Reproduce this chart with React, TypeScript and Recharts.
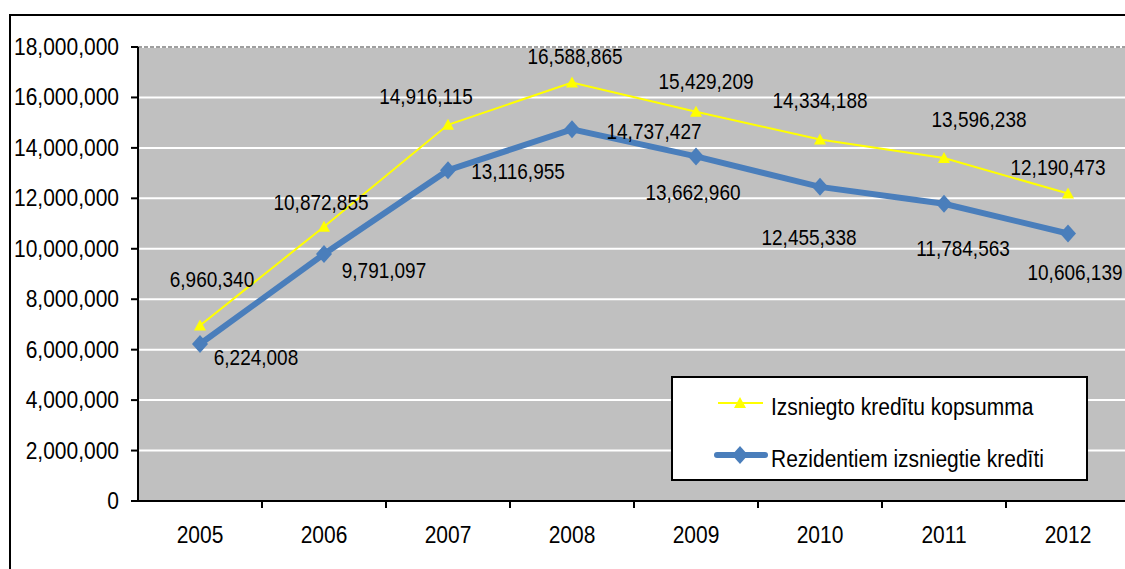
import React from "react";
import {
	ComposedChart,
	Line,
	XAxis,
	YAxis,
	CartesianGrid,
	ReferenceLine,
	Legend,
	LabelList,
} from "recharts";

const years = ["2005", "2006", "2007", "2008", "2009", "2010", "2011", "2012"];
const totalCredits = [
	6960340, 10872855, 14916115, 16588865, 15429209, 14334188, 13596238, 12190473,
];
const residentCredits = [
	6224008, 9791097, 13116955, 14737427, 13662960, 12455338, 11784563, 10606139,
];
const yTicks = [
	0, 2000000, 4000000, 6000000, 8000000, 10000000, 12000000, 14000000, 16000000,
	18000000,
];
const totalName = "Izsniegto kredītu kopsumma";
const residentName = "Rezidentiem izsniegtie kredīti";

// labels were dragged around by hand in the original, so shift each one
const totalLabelShift = [
	[12, -46], [-3, -25], [-22, -29], [3, -27], [10, -31], [0, -39], [35, -39], [-10, -27],
];
const residentLabelShift = [
	[56, 13], [60, 16], [70, 1], [82, 2], [-3, 36], [-11, 50], [19, 44], [7, 39],
];

const data = years.map((year, i) => ({
	year,
	total: totalCredits[i],
	resident: residentCredits[i],
}));

const FONT = "'Liberation Sans', Arial, sans-serif";
const YELLOW = "#FFFF00";
const BLUE = "#4A7EBB";
const STRETCH = 1.15; // the source image is a bit taller than wide

const fmt = (v: number) => Number(v).toLocaleString("en-US");

// text centred (vertically) on x,y, stretched a little in height
function TallText({ x, y, size, anchor = "middle", children }: any) {
	return (
		<text
			transform={`translate(${x},${y}) scale(1,${STRETCH})`}
			x={0}
			y={0}
			textAnchor={anchor}
			dominantBaseline="central"
			fontFamily={FONT}
			fontSize={size}
			fill="#000"
		>
			{children}
		</text>
	);
}

function makeLabel(shift: number[][]) {
	return (props: any) => {
		const { x, y, value, index } = props;
		const [dx, dy] = shift[index] || [0, 0];
		return (
			<TallText x={Number(x) + dx} y={Number(y) + dy} size={19}>
				{fmt(value)}
			</TallText>
		);
	};
}

function triangle(cx: number, cy: number) {
	return `${cx},${cy - 6} ${cx + 6},${cy + 5} ${cx - 6},${cy + 5}`;
}

function diamond(cx: number, cy: number) {
	return `${cx},${cy - 9} ${cx + 8},${cy} ${cx},${cy + 9} ${cx - 8},${cy}`;
}

const TriangleDot = (p: any) => (
	<polygon key={`t-${p.index}`} points={triangle(p.cx, p.cy)} fill={YELLOW} />
);

const DiamondDot = (p: any) => (
	<polygon key={`d-${p.index}`} points={diamond(p.cx, p.cy)} fill={BLUE} />
);

// year label plus a tick mark on the boundary between categories
const YearTick = (props: any) => {
	const { x, y, payload, index } = props;
	const half = payload && payload.offset ? payload.offset : 62;
	return (
		<g>
			{index < years.length - 1 && (
				<line
					x1={x + half}
					x2={x + half}
					y1={501}
					y2={508}
					stroke="#000"
					strokeWidth={2}
				/>
			)}
			<TallText x={x} y={y + 8} size={21}>
				{payload.value}
			</TallText>
		</g>
	);
};

const ValueTick = (props: any) => {
	const { x, y, payload } = props;
	return (
		<TallText x={x} y={y} size={21} anchor="end">
			{fmt(payload.value)}
		</TallText>
	);
};

const LegendBox = () => (
	<svg width={417} height={105} style={{ display: "block" }}>
		<rect x={1} y={1} width={415} height={103} fill="#fff" stroke="#000" strokeWidth={2} />
		<line x1={47} x2={92} y1={27} y2={27} stroke={YELLOW} strokeWidth={2} />
		<polygon points={triangle(69, 27)} fill={YELLOW} />
		<TallText x={100} y={31} size={21} anchor="start">
			{totalName}
		</TallText>
		<line x1={46} x2={94} y1={79} y2={79} stroke={BLUE} strokeWidth={6} strokeLinecap="round" />
		<polygon points={diamond(69, 79)} fill={BLUE} />
		<TallText x={100} y={83} size={21} anchor="start">
			{residentName}
		</TallText>
	</svg>
);

export default function App() {
	return (
		<div
			style={{
				position: "absolute",
				left: 0,
				top: 0,
				width: 1125,
				height: 569,
				overflow: "hidden",
				background: "#fff",
				fontFamily: FONT,
			}}
		>
			<div
				style={{
					position: "absolute",
					left: 9,
					top: 14,
					width: 1200,
					height: 600,
					borderLeft: "2px solid #000",
					borderTop: "2px solid #000",
				}}
			/>
			<div style={{ position: "absolute", left: 0, top: 0 }}>
				<ComposedChart
					width={1135}
					height={569}
					data={data}
					margin={{ top: 47, right: 5, left: 0, bottom: 0 }}
				>
					<CartesianGrid
						vertical={false}
						stroke="#fff"
						strokeWidth={2}
						fill="#C0C0C0"
						fillOpacity={1}
					/>
					<ReferenceLine
						y={18000000}
						stroke="#808080"
						strokeWidth={1.5}
						strokeDasharray="4 2"
					/>
					<XAxis
						dataKey="year"
						scale="band"
						height={68}
						axisLine={{ stroke: "#000", strokeWidth: 2 }}
						tickLine={false}
						tickSize={0}
						tickMargin={26}
						tick={<YearTick />}
						interval={0}
					/>
					<YAxis
						width={138}
						domain={[0, 18000000]}
						ticks={yTicks}
						interval={0}
						axisLine={{ stroke: "#000", strokeWidth: 2 }}
						tickLine={{ stroke: "#000", strokeWidth: 2 }}
						tickSize={7}
						tickMargin={12}
						tick={<ValueTick />}
					/>
					<Line
						name={totalName}
						dataKey="total"
						stroke={YELLOW}
						strokeWidth={2}
						dot={TriangleDot}
						activeDot={false}
						isAnimationActive={false}
					>
						<LabelList dataKey="total" content={makeLabel(totalLabelShift)} />
					</Line>
					<Line
						name={residentName}
						dataKey="resident"
						stroke={BLUE}
						strokeWidth={6}
						dot={DiamondDot}
						activeDot={false}
						isAnimationActive={false}
					>
						<LabelList dataKey="resident" content={makeLabel(residentLabelShift)} />
					</Line>
					<Legend
						layout="horizontal"
						align="center"
						verticalAlign="middle"
						content={() => <LegendBox />}
						wrapperStyle={{ position: "absolute", left: 671, top: 376, width: 417, height: 105 }}
					/>
				</ComposedChart>
			</div>
		</div>
	);
}
